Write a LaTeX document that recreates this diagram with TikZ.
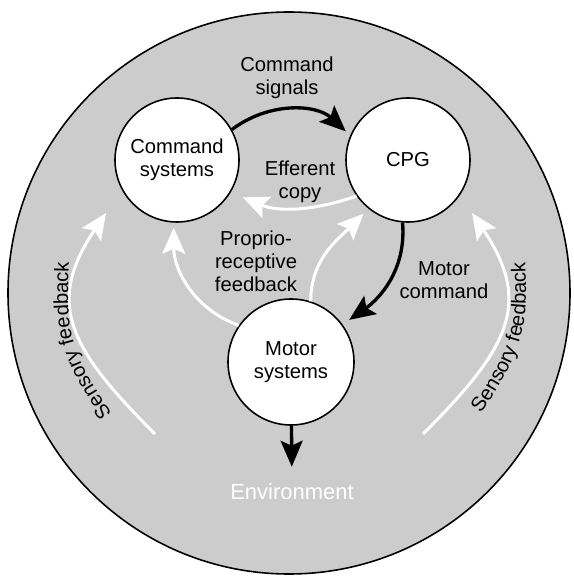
\documentclass[tikz,border=0pt]{standalone}
\usepackage{fontspec}
\setmainfont{Liberation Sans}
\usetikzlibrary{shapes,arrows,arrows.meta,positioning,decorations.text}

\begin{document}
\begin{tikzpicture}[node distance=4.62cm, auto]
    % Define styles
    \tikzstyle{unit} = [circle, draw=black, line width=0.9pt, fill=white, minimum size=2.48cm, align=center, font=\fontsize{11.5}{13.2}\selectfont]
    \tikzstyle{tag} = [align=center, font=\fontsize{11.5}{13.2}\selectfont]
    \tikzstyle{blackarrow} = [line width=1.9pt, -{Stealth[length=0.52cm, width=0.44cm, inset=0.1cm]}]
    \tikzstyle{whitearrow} = [white, line width=1.7pt, -{Stealth[length=0.52cm, width=0.46cm, inset=0.1cm]}]
    \tikzstyle{curvetext} = [decorate, decoration={text along path, text align=center, text={|\fontsize{11.5}{13.2}\selectfont|Sensory feedback}}]

    \useasboundingbox (0,0) rectangle (11.46,11.52);
    \fill [white] (0,0) rectangle (11.46,11.52);

    % Environment
    \node [circle, draw=black, line width=0.9pt, fill=black!20, minimum size=11.24cm] (world) at (5.78,5.66) {};

    % Systems
    \node [unit] (command) at (3.54,8.32) {Command\\ systems};
    \node [unit, right of=command] (cpg) {CPG};
    \node [unit, minimum size=2.52cm] (motor) at (5.82,4.28) {Motor\\ systems};

    % Labels
    \node [tag] (signals) at (5.74,9.96) {Command\\ signals};
    \node [tag] (efferent) at (6.0,7.88) {Efferent\\ copy};
    \node [tag] (proprio) at (5.12,6.30) {Proprio-\\ receptive\\ feedback};
    \node [tag] (motorcmd) at (8.88,5.92) {Motor\\ command};
    \node [tag, white, font=\fontsize{12.5}{15}\selectfont] (env) at (5.84,1.68) {Environment};

    % Arrows between systems
    \draw [blackarrow, shorten >=0.12cm] (command.29) to[bend left=40] (cpg.157);
    \draw [whitearrow, shorten >=0.26cm] (cpg.215) to[bend left=21] (command.329);
    \draw [blackarrow, shorten >=0.16cm] (cpg.265) to[out=-85, in=35] (motor.36);
    \draw [whitearrow, shorten >=0.1cm] (motor.145) to[out=160, in=-90] (command.267);
    \draw [whitearrow, shorten >=0.14cm] (motor.72) to[out=90, in=225] (cpg.231);
    \draw [blackarrow, shorten >=0.22cm] (motor) -- (env);

    % Sensory feedback
    \coordinate (sensLa) at (3.10,2.84);
    \coordinate (sensLb) at (2.12,7.26);
    \coordinate (sensRa) at (8.46,2.84);
    \coordinate (sensRb) at (9.44,7.26);
    \draw [whitearrow] (sensLa) .. controls (1.40,4.54) and (0.89,5.44) .. (sensLb);
    \draw [whitearrow] (sensRa) .. controls (10.16,4.54) and (10.67,5.44) .. (sensRb);
    \path [curvetext] (2.38,3.06) .. controls (1.20,4.62) and (1.36,5.12) .. (1.38,6.52);
    \path [curvetext] (9.42,2.98) .. controls (10.70,4.72) and (10.52,5.22) .. (10.50,6.62);

\end{tikzpicture}
\end{document}
